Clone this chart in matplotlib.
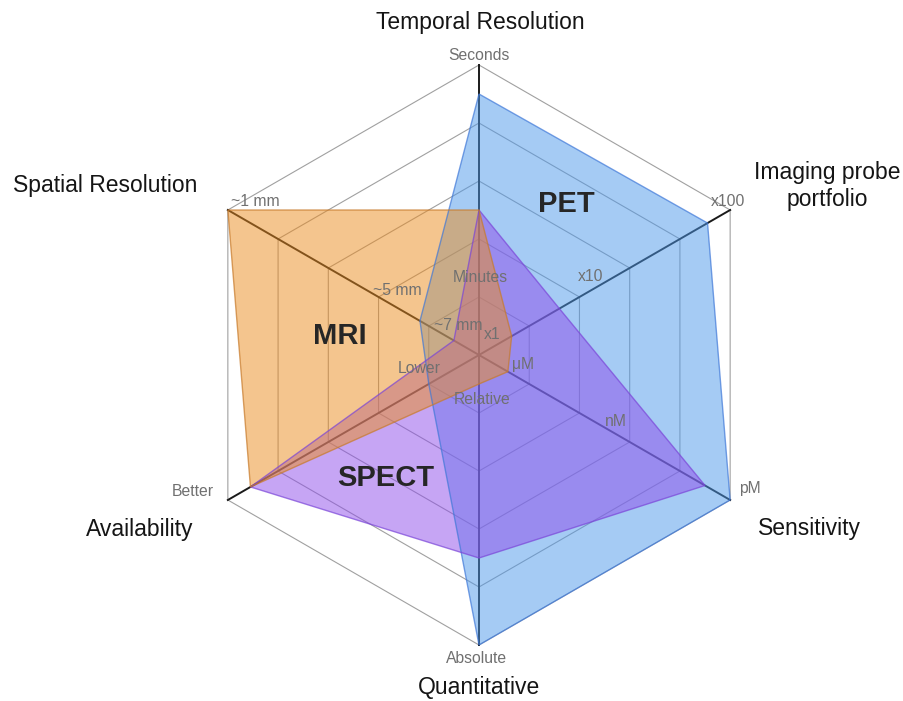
import numpy as np
import matplotlib.pyplot as plt

plt.rcParams['font.family'] = ['Liberation Sans', 'DejaVu Sans']

# axes of the radar, clockwise from the top
categories = ['Temporal Resolution', 'Imaging probe\nportfolio', 'Sensitivity',
              'Quantitative', 'Availability', 'Spatial Resolution']
angles_deg = [90, 30, -30, -90, -150, 150]

# scores as a fraction of the outer ring, same order as categories
pet = [0.90, 0.91, 1.0, 1.0, 0.20, 0.235]
spect = [0.50, 0.32, 0.90, 0.70, 0.91, 0.10]
mri = [0.50, 0.13, 0.115, 0.10, 0.91, 1.0]

# scale labels along the spokes
scale_labels = ['Seconds', 'Minutes', 'x100', 'x10', 'x1', 'μM', 'nM', 'pM',
                'Relative', 'Absolute', 'Lower', 'Better', '~7 mm', '~5 mm', '~1 mm']
scale_pos = [(0.0, 1.034), (0.003, 0.266), (0.859, 0.528), (0.386, 0.272), (0.045, 0.069),
             (0.152, -0.034), (0.472, -0.228), (0.934, -0.462), (0.01, -0.155),
             (-0.01, -1.048), (-0.207, -0.048), (-0.986, -0.472), (-0.072, 0.10),
             (-0.283, 0.221), (-0.772, 0.528)]

cat_pos = [(0.003, 1.148), (1.2, 0.583), (1.141, -0.60), (0.0, -1.148),
           (-1.169, -0.603), (-1.29, 0.586)]

ang = np.radians(angles_deg)
ux, uy = np.cos(ang), np.sin(ang)

R_PX = 290.0
CX, CY = 479, 355
fig = plt.figure(figsize=(9.04, 7.01), dpi=100)
ax = fig.add_axes([0, 0, 1, 1])
ax.set_xlim(-CX / R_PX, (904 - CX) / R_PX)
ax.set_ylim(-(701 - CY) / R_PX, CY / R_PX)
ax.axis('off')

# hexagon grid
for r in [0.2, 0.4, 0.6, 0.8, 1.0]:
    ax.plot(np.append(ux, ux[0]) * r, np.append(uy, uy[0]) * r,
            color='#a0a0a0', lw=0.8, zorder=1)
for x, y in zip(ux, uy):
    ax.plot([0, x], [0, y], color='#1a1a1a', lw=1.4, zorder=1)


def draw_poly(vals, face, edge):
    v = np.array(vals)
    ax.fill(ux * v, uy * v, facecolor=face, alpha=0.5, zorder=2)
    ax.fill(ux * v, uy * v, facecolor='none', edgecolor=edge, lw=1.0, alpha=0.7, zorder=3)


draw_poly(pet, '#4d99eb', '#3f78d8')
draw_poly(spect, '#8f4deb', '#7a45d8')
draw_poly(mri, '#eb8c1e', '#c77a2a')

for txt, (x, y) in zip(scale_labels, scale_pos):
    ax.text(x, y, txt, ha='center', va='center', fontsize=11.3, color='#707070', zorder=5)

for txt, (x, y) in zip(categories, cat_pos):
    ax.text(x, y, txt, ha='center', va='center', fontsize=16.5, color='#151515',
            linespacing=1.2, zorder=5)

ax.text(-0.479, 0.065, 'MRI', ha='center', va='center', fontsize=21,
        fontweight='bold', color='#262626', zorder=6)
ax.text(0.3, 0.52, 'PET', ha='center', va='center', fontsize=21,
        fontweight='bold', color='#262626', zorder=6)
ax.text(-0.321, -0.424, 'SPECT', ha='center', va='center', fontsize=21,
        fontweight='bold', color='#262626', zorder=6)

fig.savefig('out.png', dpi=100)
